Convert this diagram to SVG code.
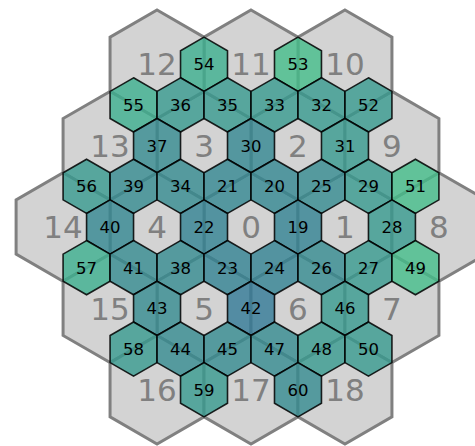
<svg xmlns="http://www.w3.org/2000/svg" xmlns:xlink="http://www.w3.org/1999/xlink" width="475" height="446" viewBox="0 0 475 446">
<defs>
<polygon id="H" points="0,-54.25 46.98,-27.125 46.98,27.125 0,54.25 -46.98,27.125 -46.98,-27.125"/>
<polygon id="h" points="0,-27.125 23.49,-13.5625 23.49,13.5625 0,27.125 -23.49,13.5625 -23.49,-13.5625"/>
<style>
.big use{fill:#d3d3d3;stroke:#808080;stroke-width:3;stroke-linejoin:miter}
.bl{font-family:"DejaVu Sans",sans-serif;font-size:31px;fill:#808080;text-anchor:middle}
.sm use{stroke:#000;stroke-width:1.6;stroke-opacity:0.85;fill-opacity:0.78}
.sl{font-family:"DejaVu Sans",sans-serif;font-size:16.5px;fill:#000;text-anchor:middle}
.A{fill:#2f7896}.B{fill:#308192}.C{fill:#318691}.D{fill:#328b8f}.E{fill:#359a8e}.F{fill:#3aaf8e}.G{fill:#41be89}
</style>
</defs>
<rect width="475" height="446" fill="#fff"/>
<g class="big">
<g id="b0"><use xlink:href="#H" x="251" y="227"/></g>
<g id="b1"><use xlink:href="#H" x="344.96" y="227"/></g>
<g id="b2"><use xlink:href="#H" x="297.98" y="145.625"/></g>
<g id="b3"><use xlink:href="#H" x="204.02" y="145.625"/></g>
<g id="b4"><use xlink:href="#H" x="157.04" y="227"/></g>
<g id="b5"><use xlink:href="#H" x="204.02" y="308.375"/></g>
<g id="b6"><use xlink:href="#H" x="297.98" y="308.375"/></g>
<g id="b7"><use xlink:href="#H" x="391.94" y="308.375"/></g>
<g id="b8"><use xlink:href="#H" x="438.92" y="227"/></g>
<g id="b9"><use xlink:href="#H" x="391.94" y="145.625"/></g>
<g id="b10"><use xlink:href="#H" x="344.96" y="64.25"/></g>
<g id="b11"><use xlink:href="#H" x="251" y="64.25"/></g>
<g id="b12"><use xlink:href="#H" x="157.04" y="64.25"/></g>
<g id="b13"><use xlink:href="#H" x="110.06" y="145.625"/></g>
<g id="b14"><use xlink:href="#H" x="63.08" y="227"/></g>
<g id="b15"><use xlink:href="#H" x="110.06" y="308.375"/></g>
<g id="b16"><use xlink:href="#H" x="157.04" y="389.75"/></g>
<g id="b17"><use xlink:href="#H" x="251" y="389.75"/></g>
<g id="b18"><use xlink:href="#H" x="344.96" y="389.75"/></g>
</g>
<g class="bl">
<text x="251" y="238.2">0</text>
<text x="344.96" y="238.2">1</text>
<text x="297.98" y="156.8">2</text>
<text x="204.02" y="156.8">3</text>
<text x="157.04" y="238.2">4</text>
<text x="204.02" y="319.6">5</text>
<text x="297.98" y="319.6">6</text>
<text x="391.94" y="319.6">7</text>
<text x="438.92" y="238.2">8</text>
<text x="391.94" y="156.8">9</text>
<text x="344.96" y="75.4">10</text>
<text x="251" y="75.4">11</text>
<text x="157.04" y="75.4">12</text>
<text x="110.06" y="156.8">13</text>
<text x="63.08" y="238.2">14</text>
<text x="110.06" y="319.6">15</text>
<text x="157.04" y="401">16</text>
<text x="251" y="401">17</text>
<text x="344.96" y="401">18</text>
</g>
<g class="sm">
<g id="n54"><use xlink:href="#h" class="F" x="204.02" y="64.25"/><text class="sl" x="204.02" y="70.2">54</text></g>
<g id="n53"><use xlink:href="#h" class="G" x="297.98" y="64.25"/><text class="sl" x="297.98" y="70.2">53</text></g>
<g id="n55"><use xlink:href="#h" class="F" x="133.55" y="104.94"/><text class="sl" x="133.55" y="110.9">55</text></g>
<g id="n36"><use xlink:href="#h" class="E" x="180.53" y="104.94"/><text class="sl" x="180.53" y="110.9">36</text></g>
<g id="n35"><use xlink:href="#h" class="E" x="227.51" y="104.94"/><text class="sl" x="227.51" y="110.9">35</text></g>
<g id="n33"><use xlink:href="#h" class="E" x="274.49" y="104.94"/><text class="sl" x="274.49" y="110.9">33</text></g>
<g id="n32"><use xlink:href="#h" class="E" x="321.47" y="104.94"/><text class="sl" x="321.47" y="110.9">32</text></g>
<g id="n52"><use xlink:href="#h" class="E" x="368.45" y="104.94"/><text class="sl" x="368.45" y="110.9">52</text></g>
<g id="n37"><use xlink:href="#h" class="D" x="157.04" y="145.625"/><text class="sl" x="157.04" y="151.6">37</text></g>
<g id="n30"><use xlink:href="#h" class="C" x="251" y="145.625"/><text class="sl" x="251" y="151.6">30</text></g>
<g id="n31"><use xlink:href="#h" class="E" x="344.96" y="145.625"/><text class="sl" x="344.96" y="151.6">31</text></g>
<g id="n56"><use xlink:href="#h" class="E" x="86.57" y="186.31"/><text class="sl" x="86.57" y="192.3">56</text></g>
<g id="n39"><use xlink:href="#h" class="D" x="133.55" y="186.31"/><text class="sl" x="133.55" y="192.3">39</text></g>
<g id="n34"><use xlink:href="#h" class="D" x="180.53" y="186.31"/><text class="sl" x="180.53" y="192.3">34</text></g>
<g id="n21"><use xlink:href="#h" class="C" x="227.51" y="186.31"/><text class="sl" x="227.51" y="192.3">21</text></g>
<g id="n20"><use xlink:href="#h" class="C" x="274.49" y="186.31"/><text class="sl" x="274.49" y="192.3">20</text></g>
<g id="n25"><use xlink:href="#h" class="D" x="321.47" y="186.31"/><text class="sl" x="321.47" y="192.3">25</text></g>
<g id="n29"><use xlink:href="#h" class="E" x="368.45" y="186.31"/><text class="sl" x="368.45" y="192.3">29</text></g>
<g id="n51"><use xlink:href="#h" class="G" x="415.43" y="186.31"/><text class="sl" x="415.43" y="192.3">51</text></g>
<g id="n40"><use xlink:href="#h" class="C" x="110.06" y="227"/><text class="sl" x="110.06" y="233">40</text></g>
<g id="n22"><use xlink:href="#h" class="B" x="204.02" y="227"/><text class="sl" x="204.02" y="233">22</text></g>
<g id="n19"><use xlink:href="#h" class="B" x="297.98" y="227"/><text class="sl" x="297.98" y="233">19</text></g>
<g id="n28"><use xlink:href="#h" class="E" x="391.94" y="227"/><text class="sl" x="391.94" y="233">28</text></g>
<g id="n57"><use xlink:href="#h" class="F" x="86.57" y="267.69"/><text class="sl" x="86.57" y="273.6">57</text></g>
<g id="n41"><use xlink:href="#h" class="D" x="133.55" y="267.69"/><text class="sl" x="133.55" y="273.6">41</text></g>
<g id="n38"><use xlink:href="#h" class="D" x="180.53" y="267.69"/><text class="sl" x="180.53" y="273.6">38</text></g>
<g id="n23"><use xlink:href="#h" class="B" x="227.51" y="267.69"/><text class="sl" x="227.51" y="273.6">23</text></g>
<g id="n24"><use xlink:href="#h" class="B" x="274.49" y="267.69"/><text class="sl" x="274.49" y="273.6">24</text></g>
<g id="n26"><use xlink:href="#h" class="D" x="321.47" y="267.69"/><text class="sl" x="321.47" y="273.6">26</text></g>
<g id="n27"><use xlink:href="#h" class="E" x="368.45" y="267.69"/><text class="sl" x="368.45" y="273.6">27</text></g>
<g id="n49"><use xlink:href="#h" class="G" x="415.43" y="267.69"/><text class="sl" x="415.43" y="273.6">49</text></g>
<g id="n43"><use xlink:href="#h" class="D" x="157.04" y="308.375"/><text class="sl" x="157.04" y="314.3">43</text></g>
<g id="n42"><use xlink:href="#h" class="A" x="251" y="308.375"/><text class="sl" x="251" y="314.3">42</text></g>
<g id="n46"><use xlink:href="#h" class="E" x="344.96" y="308.375"/><text class="sl" x="344.96" y="314.3">46</text></g>
<g id="n58"><use xlink:href="#h" class="E" x="133.55" y="349.06"/><text class="sl" x="133.55" y="355">58</text></g>
<g id="n44"><use xlink:href="#h" class="D" x="180.53" y="349.06"/><text class="sl" x="180.53" y="355">44</text></g>
<g id="n45"><use xlink:href="#h" class="D" x="227.51" y="349.06"/><text class="sl" x="227.51" y="355">45</text></g>
<g id="n47"><use xlink:href="#h" class="D" x="274.49" y="349.06"/><text class="sl" x="274.49" y="355">47</text></g>
<g id="n48"><use xlink:href="#h" class="E" x="321.47" y="349.06"/><text class="sl" x="321.47" y="355">48</text></g>
<g id="n50"><use xlink:href="#h" class="E" x="368.45" y="349.06"/><text class="sl" x="368.45" y="355">50</text></g>
<g id="n59"><use xlink:href="#h" class="E" x="204.02" y="389.75"/><text class="sl" x="204.02" y="395.7">59</text></g>
<g id="n60"><use xlink:href="#h" class="D" x="297.98" y="389.75"/><text class="sl" x="297.98" y="395.7">60</text></g>
</g>
<g id="connectors"/>
</svg>
